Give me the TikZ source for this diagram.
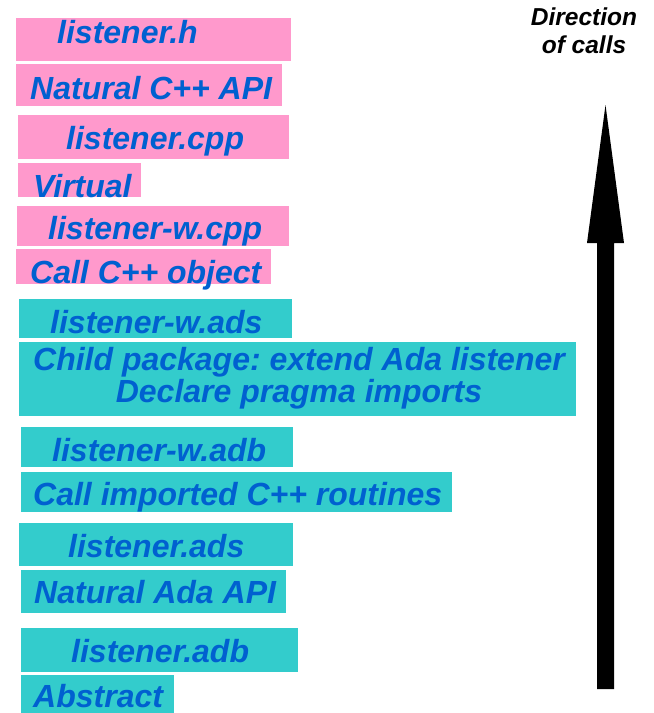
\documentclass[tikz,border=0pt]{standalone}
\usepackage{fontspec}
\setmainfont{Liberation Sans}
\frenchspacing
\definecolor{boxpink}{RGB}{255,153,204}
\definecolor{boxteal}{RGB}{51,204,204}
\definecolor{txtblue}{RGB}{0,96,208}
\begin{document}
\begin{tikzpicture}[x=1pt,y=-1pt,
  pinkbox/.style={fill=boxpink, draw=white, line width=0.8pt, inner sep=0pt, anchor=north west},
  tealbox/.style={fill=boxteal, draw=white, line width=0.8pt, inner sep=0pt, anchor=north west},
  lbl/.style={text=txtblue, font=\fontsize{32}{32}\selectfont\bfseries\itshape, inner sep=0pt, anchor=base west},
  dirlbl/.style={font=\fontsize{24.5}{28}\selectfont\bfseries\itshape, inner sep=0pt, anchor=base}]
\useasboundingbox (0,0) rectangle (654,713);
% pink boxes
\node[pinkbox, minimum width=276pt, minimum height=44pt] (b1) at (15,17) {};
\node[lbl] (t1) at (57,43) {listener.h};
\node[pinkbox, minimum width=267pt, minimum height=43pt] (b2) at (15,63) {};
\node[lbl] (t2) at (30,99) {Natural C++ API};
\node[pinkbox, minimum width=272pt, minimum height=45pt] (b3) at (17,114) {};
\node[lbl] (t3) at (66,149) {listener.cpp};
\node[pinkbox, minimum width=124pt, minimum height=35pt] (b4) at (17,162) {};
\node[lbl] (t4) at (33,197) {Virtual};
\node[pinkbox, minimum width=273pt, minimum height=41pt] (b5) at (16,205) {};
\node[lbl] (t5) at (48,239) {listener-w.cpp};
\node[pinkbox, minimum width=256pt, minimum height=36pt] (b6) at (15,248) {};
\node[lbl] (t6) at (30,283) {Call C++ object};
% teal boxes
\node[tealbox, minimum width=274pt, minimum height=40pt] (b7) at (18,298) {};
\node[lbl] (t7) at (50,333) {listener-w.ads};
\node[tealbox, minimum width=558pt, minimum height=75pt] (b8) at (18,341) {};
\node[lbl, anchor=base] (t8a) at (299,370) {Child package: extend Ada listener};
\node[lbl, anchor=base] (t8b) at (299,402) {Declare pragma imports};
\node[tealbox, minimum width=273pt, minimum height=41pt] (b9) at (20,426) {};
\node[lbl] (t9) at (52,461) {listener-w.adb};
\node[tealbox, minimum width=432pt, minimum height=41pt] (b10) at (20,471) {};
\node[lbl] (t10) at (33,505) {Call imported C++ routines};
\node[tealbox, minimum width=275pt, minimum height=44pt] (b11) at (18,522) {};
\node[lbl] (t11) at (68,557) {listener.ads};
\node[tealbox, minimum width=266pt, minimum height=44pt] (b12) at (20,569) {};
\node[lbl] (t12) at (34,603) {Natural Ada API};
\node[tealbox, minimum width=278pt, minimum height=45pt] (b13) at (20,627) {};
\node[lbl] (t13) at (71,662) {listener.adb};
\node[tealbox, minimum width=154pt, minimum height=39pt] (b14) at (20,674) {};
\node[lbl] (t14) at (33,707) {Abstract};
% direction arrow
\node[dirlbl] (d1) at (584,25) {Direction};
\node[dirlbl] (d2) at (584,53) {of calls};
\fill[black] (597,689) -- (597,243) -- (587,243) -- (605.5,105) -- (624,243) -- (614,243) -- (614,689) -- cycle;
\end{tikzpicture}
\end{document}
